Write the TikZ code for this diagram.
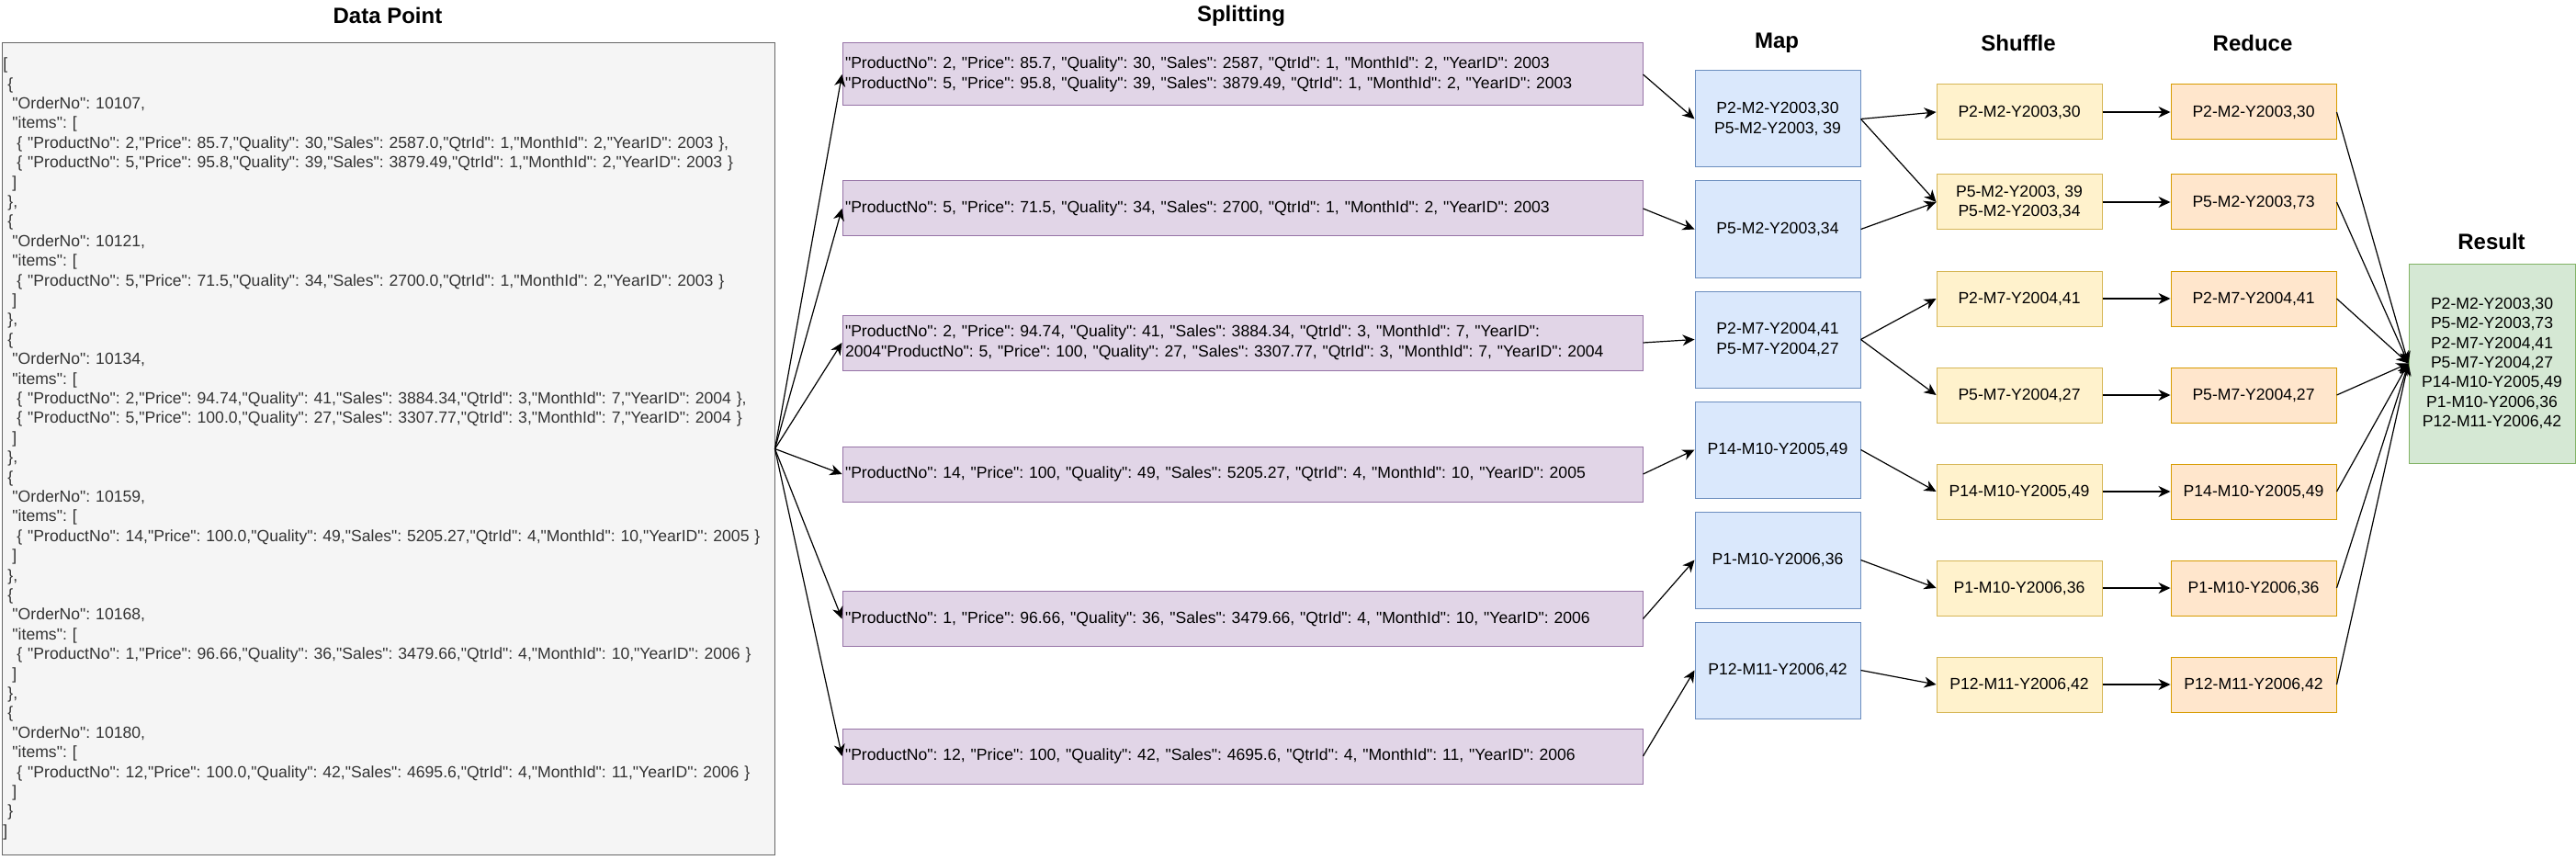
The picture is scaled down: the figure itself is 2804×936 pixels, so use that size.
\documentclass[tikz,border=0pt]{standalone}
\usepackage{fontspec}
\setmainfont{Liberation Sans}[Ligatures=TeXOff]
\usetikzlibrary{arrows.meta, positioning}
\frenchspacing

\definecolor{dpfill}{HTML}{F5F5F5}
\definecolor{dpline}{HTML}{666666}
\definecolor{dptext}{HTML}{333333}
\definecolor{spfill}{HTML}{E1D5E7}
\definecolor{spline}{HTML}{9673A6}
\definecolor{mpfill}{HTML}{DAE8FC}
\definecolor{mpline}{HTML}{6C8EBF}
\definecolor{shfill}{HTML}{FFF2CC}
\definecolor{shline}{HTML}{D6B656}
\definecolor{rdfill}{HTML}{FFE6CC}
\definecolor{rdline}{HTML}{D79B00}
\definecolor{rsfill}{HTML}{D5E8D4}
\definecolor{rsline}{HTML}{82B366}

\newcommand{\indA}{\hspace*{2.5pt}}
\newcommand{\indB}{\hspace*{5pt}}
\newcommand{\indC}{\hspace*{7.5pt}}

\begin{document}
\begin{tikzpicture}[
    x=0.5pt, y=-0.5pt, >={Stealth[length=6.5pt, width=6pt, inset=2pt]},
    every node/.style={font=\fontsize{8.8}{10.7}\selectfont\frenchspacing},
    coltitle/.style={font=\fontsize{12}{14}\selectfont\bfseries},
    datbox/.style={draw=dpline, fill=dpfill, text=dptext, line width=0.5pt, minimum width=420.5pt, minimum height=441.5pt, text width=419pt, inner xsep=0.75pt, align=left},
    splitbox/.style={draw=spline, fill=spfill, line width=0.5pt, minimum width=435.5pt, minimum height=30pt, text width=432.5pt, inner xsep=1.5pt, align=left},
    mapbox/.style={draw=mpline, fill=mpfill, line width=0.5pt, minimum width=90pt, minimum height=52.5pt, align=center},
    shufbox/.style={draw=shline, fill=shfill, line width=0.5pt, minimum width=90pt, minimum height=30pt, align=center},
    redbox/.style={draw=rdline, fill=rdfill, line width=0.5pt, minimum width=90pt, minimum height=30pt, align=center},
    resbox/.style={draw=rsline, fill=rsfill, line width=0.5pt, minimum width=90.5pt, minimum height=108.5pt, align=center},
    el/.style={->, line width=0.6pt}
  ]
    \useasboundingbox (0,0) rectangle (2804,936);

    % column titles
    \node[coltitle] (tdata) at (422,17) {Data Point};
    \node[coltitle] (tsplit) at (1351,17) {Splitting};
    \node[coltitle] (tmap) at (1934,47) {Map};
    \node[coltitle] (tshuf) at (2197,47) {Shuffle};
    \node[coltitle] (tred) at (2452,47) {Reduce};
    \node[coltitle] (tres) at (2712,263) {Result};

    % data point
    \node[datbox] (data) at (422.5,488.5) {[\\
\indA\{\\
\indB"OrderNo": 10107,\\
\indB"items": [\\
\indC\{ "ProductNo": 2,"Price": 85.7,"Quality": 30,"Sales": 2587.0,"QtrId": 1,"MonthId": 2,"YearID": 2003 \},\\
\indC\{ "ProductNo": 5,"Price": 95.8,"Quality": 39,"Sales": 3879.49,"QtrId": 1,"MonthId": 2,"YearID": 2003 \}\\
\indB]\\
\indA\},\\
\indA\{\\
\indB"OrderNo": 10121,\\
\indB"items": [\\
\indC\{ "ProductNo": 5,"Price": 71.5,"Quality": 34,"Sales": 2700.0,"QtrId": 1,"MonthId": 2,"YearID": 2003 \}\\
\indB]\\
\indA\},\\
\indA\{\\
\indB"OrderNo": 10134,\\
\indB"items": [\\
\indC\{ "ProductNo": 2,"Price": 94.74,"Quality": 41,"Sales": 3884.34,"QtrId": 3,"MonthId": 7,"YearID": 2004 \},\\
\indC\{ "ProductNo": 5,"Price": 100.0,"Quality": 27,"Sales": 3307.77,"QtrId": 3,"MonthId": 7,"YearID": 2004 \}\\
\indB]\\
\indA\},\\
\indA\{\\
\indB"OrderNo": 10159,\\
\indB"items": [\\
\indC\{ "ProductNo": 14,"Price": 100.0,"Quality": 49,"Sales": 5205.27,"QtrId": 4,"MonthId": 10,"YearID": 2005 \}\\
\indB]\\
\indA\},\\
\indA\{\\
\indB"OrderNo": 10168,\\
\indB"items": [\\
\indC\{ "ProductNo": 1,"Price": 96.66,"Quality": 36,"Sales": 3479.66,"QtrId": 4,"MonthId": 10,"YearID": 2006 \}\\
\indB]\\
\indA\},\\
\indA\{\\
\indB"OrderNo": 10180,\\
\indB"items": [\\
\indC\{ "ProductNo": 12,"Price": 100.0,"Quality": 42,"Sales": 4695.6,"QtrId": 4,"MonthId": 11,"YearID": 2006 \}\\
\indB]\\
\indA\}\\
]};

    % splitting
    \node[splitbox, minimum height=34pt] (s1) at (1352.5,81) {"ProductNo": 2, "Price": 85.7, "Quality": 30, "Sales": 2587, "QtrId": 1, "MonthId": 2, "YearID": 2003\\"ProductNo": 5, "Price": 95.8, "Quality": 39, "Sales": 3879.49, "QtrId": 1, "MonthId": 2, "YearID": 2003};
    \node[splitbox] (s2) at (1352.5,227) {"ProductNo": 5, "Price": 71.5, "Quality": 34, "Sales": 2700, "QtrId": 1, "MonthId": 2, "YearID": 2003};
    \node[splitbox] (s3) at (1352.5,373) {"ProductNo": 2, "Price": 94.74, "Quality": 41, "Sales": 3884.34, "QtrId": 3, "MonthId": 7, "YearID":\\2004"ProductNo": 5, "Price": 100, "Quality": 27, "Sales": 3307.77, "QtrId": 3, "MonthId": 7, "YearID": 2004};
    \node[splitbox] (s4) at (1352.5,516) {"ProductNo": 14, "Price": 100, "Quality": 49, "Sales": 5205.27, "QtrId": 4, "MonthId": 10, "YearID": 2005};
    \node[splitbox] (s5) at (1352.5,673.5) {"ProductNo": 1, "Price": 96.66, "Quality": 36, "Sales": 3479.66, "QtrId": 4, "MonthId": 10, "YearID": 2006};
    \node[splitbox] (s6) at (1352.5,823) {"ProductNo": 12, "Price": 100, "Quality": 42, "Sales": 4695.6, "QtrId": 4, "MonthId": 11, "YearID": 2006};

    % map
    \node[mapbox] (m1) at (1935,129.5) {P2-M2-Y2003,30\\P5-M2-Y2003, 39};
    \node[mapbox] (m2) at (1935,249.5) {P5-M2-Y2003,34};
    \node[mapbox] (m3) at (1935,369.5) {P2-M7-Y2004,41\\P5-M7-Y2004,27};
    \node[mapbox] (m4) at (1935,489.5) {P14-M10-Y2005,49};
    \node[mapbox] (m5) at (1935,609.5) {P1-M10-Y2006,36};
    \node[mapbox] (m6) at (1935,729.5) {P12-M11-Y2006,42};

    % shuffle
    \node[shufbox] (f1) at (2198,122) {P2-M2-Y2003,30};
    \node[shufbox] (f2) at (2198,220) {P5-M2-Y2003, 39\\P5-M2-Y2003,34};
    \node[shufbox] (f3) at (2198,325) {P2-M7-Y2004,41};
    \node[shufbox] (f4) at (2198,430) {P5-M7-Y2004,27};
    \node[shufbox] (f5) at (2198,535) {P14-M10-Y2005,49};
    \node[shufbox] (f6) at (2198,640) {P1-M10-Y2006,36};
    \node[shufbox] (f7) at (2198,745) {P12-M11-Y2006,42};

    % reduce
    \node[redbox] (r1) at (2453,122) {P2-M2-Y2003,30};
    \node[redbox] (r2) at (2453,220) {P5-M2-Y2003,73};
    \node[redbox] (r3) at (2453,325) {P2-M7-Y2004,41};
    \node[redbox] (r4) at (2453,430) {P5-M7-Y2004,27};
    \node[redbox] (r5) at (2453,535) {P14-M10-Y2005,49};
    \node[redbox] (r6) at (2453,640) {P1-M10-Y2006,36};
    \node[redbox] (r7) at (2453,745) {P12-M11-Y2006,42};

    % result
    \node[resbox] (res) at (2712.5,395.5) {P2-M2-Y2003,30\\P5-M2-Y2003,73\\P2-M7-Y2004,41\\P5-M7-Y2004,27\\P14-M10-Y2005,49\\P1-M10-Y2006,36\\P12-M11-Y2006,42};

    % data -> splitting
    \draw[el] (data.east) -- (s1.west);
    \draw[el] (data.east) -- (s2.west);
    \draw[el] (data.east) -- (s3.west);
    \draw[el] (data.east) -- (s4.west);
    \draw[el] (data.east) -- (s5.west);
    \draw[el] (data.east) -- (s6.west);

    % splitting -> map
    \draw[el] (s1.east) -- (m1.west);
    \draw[el] (s2.east) -- (m2.west);
    \draw[el] (s3.east) -- (m3.west);
    \draw[el] (s4.east) -- (m4.west);
    \draw[el] (s5.east) -- (m5.west);
    \draw[el] (s6.east) -- (m6.west);

    % map -> shuffle
    \draw[el] (m1.east) -- (f1.west);
    \draw[el] (m1.east) -- (f2.west);
    \draw[el] (m2.east) -- (f2.west);
    \draw[el] (m3.east) -- (f3.west);
    \draw[el] (m3.east) -- (f4.west);
    \draw[el] (m4.east) -- (f5.west);
    \draw[el] (m5.east) -- (f6.west);
    \draw[el] (m6.east) -- (f7.west);

    % shuffle -> reduce
    \draw[el] (f1) -- (r1);
    \draw[el] (f2) -- (r2);
    \draw[el] (f3) -- (r3);
    \draw[el] (f4) -- (r4);
    \draw[el] (f5) -- (r5);
    \draw[el] (f6) -- (r6);
    \draw[el] (f7) -- (r7);

    % reduce -> result
    \draw[el] (r1.east) -- (res.west);
    \draw[el] (r2.east) -- (res.west);
    \draw[el] (r3.east) -- (res.west);
    \draw[el] (r4.east) -- (res.west);
    \draw[el] (r5.east) -- (res.west);
    \draw[el] (r6.east) -- (res.west);
    \draw[el] (r7.east) -- (res.west);
  \end{tikzpicture}
\end{document}
